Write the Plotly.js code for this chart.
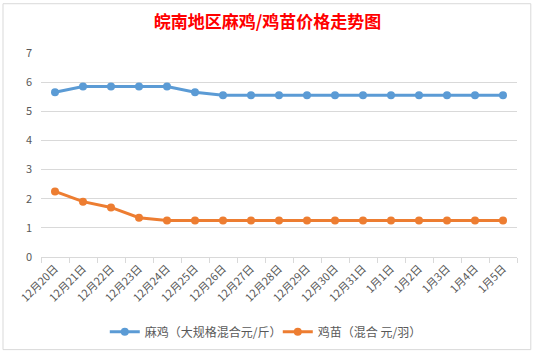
<!DOCTYPE html>
<html><head><meta charset="utf-8">
<script src="https://cdn.plot.ly/plotly-3.0.1.min.js"></script>
<style>html,body{margin:0;padding:0;background:#fff;}#c{width:535px;height:358px;}</style>
</head><body><div id="c"></div>
<script>
const categories = ["12月20日","12月21日","12月22日","12月23日","12月24日","12月25日","12月26日","12月27日","12月28日","12月29日","12月30日","12月31日","1月1日","1月2日","1月3日","1月4日","1月5日"];
const maji = [5.65,5.85,5.85,5.85,5.85,5.65,5.55,5.55,5.55,5.55,5.55,5.55,5.55,5.55,5.55,5.55,5.55];
const jimiao = [2.25,1.9,1.7,1.35,1.25,1.25,1.25,1.25,1.25,1.25,1.25,1.25,1.25,1.25,1.25,1.25,1.25];
const seriesNames = ["麻鸡（大规格混合元/斤）","鸡苗（混合 元/羽）"];
const titleText = "皖南地区麻鸡/鸡苗价格走势图";

const font = "'Noto Sans CJK SC', 'Noto Sans', sans-serif";
const traces = [
  {x: categories, y: maji, name: seriesNames[0], type: 'scatter', mode: 'lines+markers',
   line: {color: '#5B9BD5', width: 3}, marker: {color: '#5B9BD5', size: 8}},
  {x: categories, y: jimiao, name: seriesNames[1], type: 'scatter', mode: 'lines+markers',
   line: {color: '#ED7D31', width: 3}, marker: {color: '#ED7D31', size: 8}}
];
const layout = {
  width: 535, height: 358,
  margin: {l: 41, r: 18, t: 53, b: 98},
  paper_bgcolor: '#fff', plot_bgcolor: '#fff',
  title: {text: '<b>' + titleText + '</b>', font: {family: font, size: 17, color: '#FF0000'},
          x: 0.5, xanchor: 'center', y: 1 - 22/358, yanchor: 'middle', yref: 'container'},
  xaxis: {type: 'category', tickangle: -45, tickfont: {family: font, size: 11, color: '#595959'},
          showgrid: false, showline: true, linecolor: '#D9D9D9', linewidth: 1,
          ticks: 'outside', tickson: 'boundaries', ticklen: 5, tickcolor: '#D9D9D9',
          range: [-0.5, 16.5], fixedrange: true},
  yaxis: {range: [0, 7], dtick: 1, tickfont: {family: font, size: 11, color: '#595959'},
          gridcolor: '#D9D9D9', gridwidth: 1, zeroline: false, showline: false, ticklen: 0,
          ticks: '', ticklabelstandoff: 8},
  legend: {orientation: 'h', x: 0.134, xanchor: 'left', y: -0.367, yanchor: 'middle',
           font: {family: font, size: 12, color: '#595959'}, itemwidth: 30,
           entrywidth: 128, entrywidthmode: 'pixels'},
  showlegend: true,
  shapes: [
    {type: 'rect', xref: 'paper', yref: 'paper', x0: -0.0798, x1: 1.029, y0: -0.454, y1: 1.2415,
     line: {color: '#D9D9D9', width: 1}, layer: 'below'}
  ]
};
Plotly.newPlot('c', traces, layout, {displayModeBar: false, staticPlot: true});
</script></body></html>
